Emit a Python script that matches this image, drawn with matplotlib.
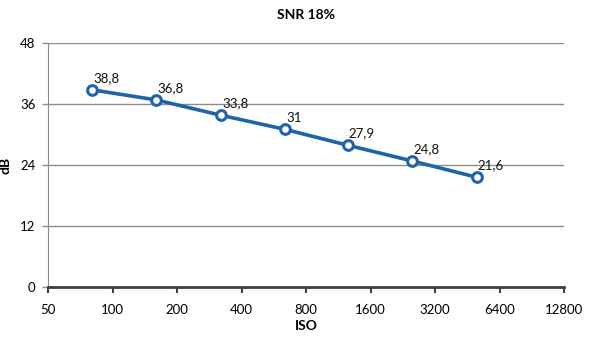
import matplotlib
matplotlib.use("Agg")
import matplotlib.pyplot as plt

# data
iso = [80, 160, 320, 640, 1250, 2500, 5000]
snr = [38.8, 36.8, 33.8, 31.0, 27.9, 24.8, 21.6]
x_ticks = [50, 100, 200, 400, 800, 1600, 3200, 6400, 12800]
y_ticks = [0, 12, 24, 36, 48]

plt.rcParams['font.family'] = ['Lato', 'DejaVu Sans']

fig = plt.figure(figsize=(5.9, 3.39), dpi=100)
ax = fig.add_axes([48 / 590, 1 - 287 / 339, (564 - 48) / 590, (287 - 43) / 339])

blue = '#1f64a8'
ax.plot(iso, snr, color=blue, lw=2.6, marker='o', ms=7, mfc='white',
        mec=blue, mew=2.2, zorder=3)
for x, y in zip(iso, snr):
    lab = f"{y:g}".replace('.', ',')
    ax.annotate(lab, (x, y), xytext=(1, 4), textcoords='offset points',
                fontsize=9.5, ha='left', va='bottom', color='#111111')

ax.set_xscale('log', base=2)
ax.set_xlim(50, 12800)
ax.set_ylim(0, 48)
ax.set_xticks(x_ticks)
ax.set_xticklabels([str(t) for t in x_ticks])
ax.minorticks_off()
ax.set_yticks(y_ticks)
ax.yaxis.grid(True, color='#8c8c8c', lw=1)
ax.set_axisbelow(True)

for s in ['top', 'right']:
    ax.spines[s].set_visible(False)
ax.spines['left'].set_color('#8c8c8c')
ax.spines['bottom'].set_color('#404040')
ax.spines['bottom'].set_linewidth(2)
ax.tick_params(axis='x', direction='out', length=4, width=1.5, color='#404040',
               labelsize=9.5, pad=8)
ax.tick_params(axis='y', direction='out', length=4, width=1, color='#8c8c8c',
               labelsize=9.5, pad=5)

ax.set_title('SNR 18%', fontsize=10, fontweight='bold', pad=17)
ax.set_xlabel('ISO', fontsize=10, fontweight='bold', labelpad=3)
ax.set_ylabel('dB', fontsize=10, fontweight='bold', labelpad=6)

fig.savefig('out.png', dpi=100)
